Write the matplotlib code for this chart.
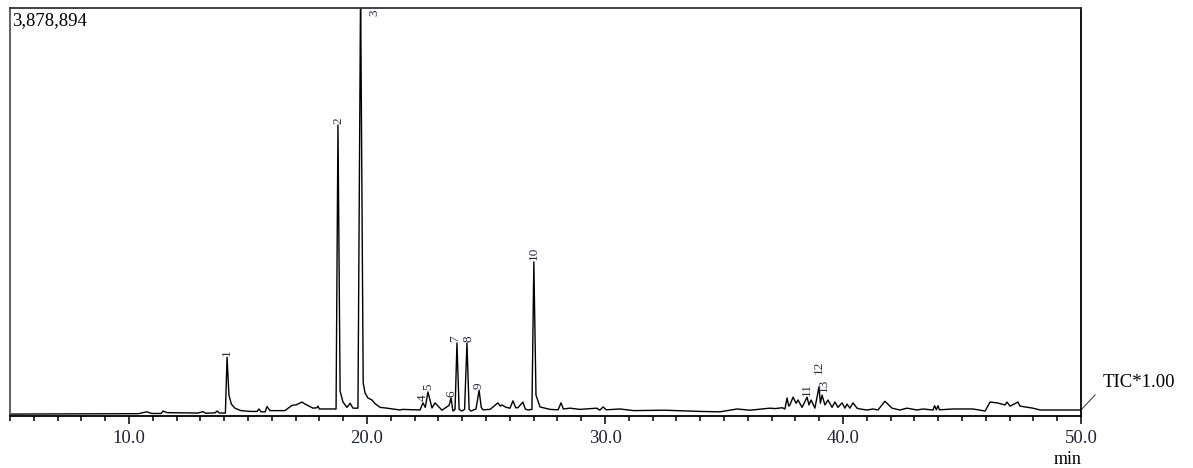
import numpy as np
import matplotlib
matplotlib.use('Agg')
from matplotlib import pyplot as plt

FULL_SCALE = 3878894

# retention time (min) and signal (% of full scale)
rt_min = [5.00, 8.00, 10.40, 10.76, 10.95, 11.35, 11.43, 11.60, 12.90, 13.11,
          13.22, 13.62, 13.70, 13.80, 14.05, 14.12, 14.20, 14.30, 14.45, 14.70,
          15.10, 15.38, 15.46, 15.55, 15.72, 15.80, 15.92, 16.55, 16.85, 17.02,
          17.27, 17.40, 17.73, 17.90, 17.94, 18.00, 18.70, 18.78, 18.87, 18.99,
          19.16, 19.29, 19.41, 19.62, 19.73, 19.84, 19.92, 20.04, 20.21, 20.34,
          20.55, 20.84, 21.39, 21.50, 22.23, 22.35, 22.45, 22.56, 22.73, 22.86,
          23.15, 23.45, 23.53, 23.61, 23.70, 23.78, 23.87, 23.99, 24.10, 24.20,
          24.29, 24.37, 24.58, 24.71, 24.80, 24.87, 25.17, 25.50, 25.60, 25.67,
          25.84, 26.01, 26.13, 26.25, 26.34, 26.55, 26.65, 26.76, 26.93, 27.01,
          27.10, 27.27, 27.69, 28.03, 28.15, 28.25, 28.53, 28.95, 29.66, 29.78,
          29.92, 30.05, 30.63, 31.20, 31.89, 32.50, 33.99, 34.83, 35.55, 36.09,
          36.93, 37.14, 37.45, 37.56, 37.65, 37.72, 37.77, 37.90, 38.03, 38.11,
          38.28, 38.49, 38.57, 38.66, 38.82, 38.99, 39.05, 39.12, 39.24, 39.37,
          39.54, 39.66, 39.79, 39.96, 40.08, 40.17, 40.29, 40.42, 40.59, 40.71,
          41.01, 41.26, 41.47, 41.76, 42.06, 42.39, 42.69, 43.11, 43.36, 43.78,
          43.85, 43.92, 43.99, 44.05, 44.62, 45.46, 45.97, 46.18, 46.47, 46.81,
          46.89, 47.02, 47.35, 47.44, 47.98, 48.28, 50.00]
signal_pct = [0.35, 0.40, 0.45, 0.90, 0.50, 0.50, 1.10, 0.70, 0.60, 0.95,
              0.55, 0.65, 1.10, 0.60, 0.60, 14.3, 5.0, 2.8, 1.8, 1.2,
              1.0, 1.0, 1.6, 0.9, 0.9, 2.2, 1.2, 1.2, 2.5, 2.6,
              3.3, 2.8, 1.8, 1.9, 2.3, 1.6, 1.6, 71.3, 6.0, 3.3,
              2.0, 3.0, 1.8, 1.8, 105.0, 8.0, 5.5, 4.3, 3.8, 2.9,
              2.0, 1.8, 1.35, 1.5, 1.35, 3.1, 2.0, 5.8, 1.85, 3.1,
              1.3, 2.5, 4.3, 1.1, 1.5, 17.8, 1.5, 1.1, 1.5, 17.8,
              1.5, 1.1, 1.6, 6.2, 2.0, 1.4, 1.5, 3.1, 2.3, 2.6,
              2.0, 1.8, 3.6, 1.9, 1.9, 3.3, 1.6, 1.35, 1.5, 37.7,
              5.0, 2.1, 1.5, 1.4, 3.1, 1.6, 1.8, 1.5, 1.8, 1.3,
              2.1, 1.4, 1.6, 1.2, 1.25, 1.3, 1.0, 0.9, 1.6, 1.3,
              1.8, 1.7, 1.9, 1.6, 4.3, 2.3, 2.6, 4.5, 3.0, 3.8,
              2.0, 4.5, 2.6, 3.8, 1.8, 7.0, 3.0, 5.0, 2.6, 3.8,
              2.0, 3.3, 2.0, 3.1, 1.8, 2.8, 1.8, 3.1, 1.8, 1.6,
              1.35, 1.6, 1.35, 3.5, 1.8, 1.35, 1.8, 1.35, 1.6, 1.35,
              2.4, 1.4, 2.4, 1.4, 1.6, 1.6, 1.1, 3.3, 3.1, 2.6,
              3.3, 2.3, 3.3, 2.3, 1.8, 1.35, 1.35]

peak_no = ['1', '2', '3', '4', '5', '6', '7', '8', '9', '10', '11', '12', '13']
peak_rt = [14.12, 18.78, 19.73, 22.35, 22.56, 23.53, 23.78, 24.20, 24.71,
           27.01, 38.49, 38.99, 39.12]

tick_vals = [10, 20, 30, 40, 50]
tick_text = ['10.0', '20.0', '30.0', '40.0', '50.0']

plt.rcParams['font.family'] = ['Liberation Serif', 'DejaVu Serif']

W, H = 1193, 468
fig = plt.figure(figsize=(W / 100, H / 100), dpi=100)
ax = fig.add_axes([10 / W, 52.5 / H, 1071 / W, 407.5 / H])

counts = np.array(signal_pct) / 100.0 * FULL_SCALE
ax.plot(rt_min, counts, color='black', lw=1.0)
ax.set_xlim(5, 50)
ax.set_ylim(0, FULL_SCALE)
ax.set_yticks([])
ax.set_xticks(tick_vals)
ax.set_xticklabels(tick_text)
ax.set_xticks(np.arange(5, 51, 1), minor=True)
ax.tick_params(axis='x', which='major', length=5.5, width=1.1, direction='out',
               pad=5, labelsize=13.5, labelcolor='#22223a')
ax.tick_params(axis='x', which='minor', length=3.8, width=1.1, direction='out')
for side in ['top', 'bottom', 'right', 'left']:
    ax.spines[side].set_linewidth(1.3)
ax.spines['left'].set_color('#555555')
ax.spines['top'].set_color('#333333')

# peak numbers, rotated, sitting on top of each peak
lift = {'12': 8, '13': 1}
nudge = {'7': -1, '8': 1, '13': 1}
for lab, t in zip(peak_no, peak_rt):
    h = np.interp(t, rt_min, counts)
    if h >= FULL_SCALE:
        ax.annotate(lab, (t, FULL_SCALE), xytext=(10, -1), textcoords='offset points',
                    rotation=90, ha='center', va='top', fontsize=9.5, color='#2a2a40')
    else:
        ax.annotate(lab, (t, h), xytext=(nudge.get(lab, 0), 1 + lift.get(lab, 0)),
                    textcoords='offset points', rotation=90, ha='center', va='bottom',
                    fontsize=9.5, color='#2a2a40')

ax.text(0.002, 0.99, '{:,}'.format(FULL_SCALE), transform=ax.transAxes,
        ha='left', va='top', fontsize=13.5)

# TIC tag at the right end of the trace
end = counts[-1]
ax.plot([50, 50.59], [end, 0.0503 * FULL_SCALE], color='#444444', lw=0.8, clip_on=False)
ax.text(50.92, 0.08 * FULL_SCALE, 'TIC*1.00', ha='left', va='center', fontsize=13.5,
        clip_on=False)
fig.text(1068 / W, 8 / H, 'min', ha='center', va='center', fontsize=13)

plt.savefig('out.png', dpi=100)
